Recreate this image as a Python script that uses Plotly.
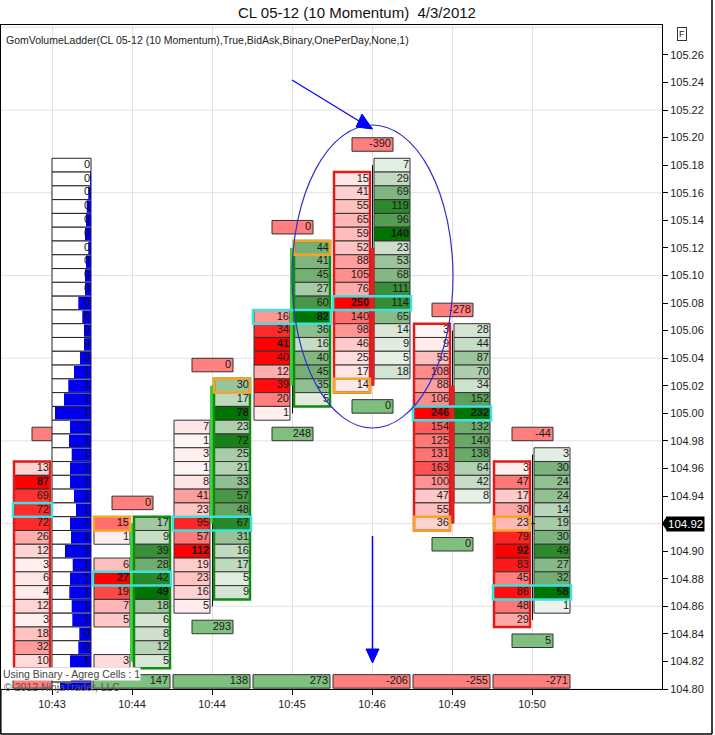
import plotly.graph_objects as go

# ---------------- data ----------------
TICK = 0.01
times = ["10:43", "10:44", "10:44", "10:45", "10:46", "10:49", "10:50"]

# top price of each bid (left, red) and ask (right, green) ladder column
bid_top = [104.96, 104.92, 104.99, 105.07, 105.17, 105.06, 104.96]
ask_top = [104.97, 104.92, 105.02, 105.12, 105.18, 105.06, 104.97]

bid_1043 = [13, 87, 69, 72, 72, 26, 12, 3, 6, 4, 12, 3, 18, 32, 10]
ask_1043 = []  # hidden under the volume profile
bid_1044a = [15, 1, None, 6, 27, 19, 7, 5, None, None, 3]
ask_1044a = [17, 9, 39, 28, 42, 49, 18, 6, 8, 12, 5]
bid_1044b = [7, 1, 3, 1, 8, 41, 23, 95, 57, 112, 19, 23, 16, 5]
ask_1044b = [30, 17, 78, 23, 72, 25, 21, 33, 57, 48, 67, 31, 16, 17, 5, 9]
bid_1045 = [16, 34, 41, 40, 12, 39, 20, 1]
ask_1045 = [44, 41, 45, 27, 60, 82, 36, 16, 40, 45, 35, 5]
bid_1046 = [15, 41, 55, 65, 59, 52, 88, 105, 76, 250, 140, 98, 46, 25, 17, 14]
ask_1046 = [7, 29, 69, 119, 96, 140, 23, 53, 68, 111, 114, 65, 14, 9, 5, 18]
bid_1049 = [3, 9, 55, 108, 88, 106, 246, 154, 125, 131, 163, 100, 47, 55, 36]
ask_1049 = [28, 44, 87, 70, 34, 152, 232, 132, 140, 138, 64, 42, 8]
bid_1050 = [3, 47, 17, 30, 23, 79, 92, 83, 45, 86, 48, 29]
ask_1050 = [3, 30, 24, 24, 14, 19, 30, 49, 27, 32, 58, 1]

bid_cols = [bid_1043, bid_1044a, bid_1044b, bid_1045, bid_1046, bid_1049, bid_1050]
ask_cols = [ask_1043, ask_1044a, ask_1044b, ask_1045, ask_1046, ask_1049, ask_1050]

bar_open = [None, 104.82, 104.92, 105.02, 105.12, 105.02, 104.92]
bar_high = [104.97, 104.92, 105.02, 105.12, 105.18, 105.06, 104.97]
bar_low = [104.82, 104.82, 104.86, 105.00, 105.02, 104.92, 104.85]
bar_close = [None, 104.92, 105.02, 105.12, 105.02, 104.92, 104.92]

delta_top = ["0", "0", "0", "0", "-390", "-278", "-44"]
delta_bottom = [None, None, "293", "248", "0", "0", "5"]
bar_totals = [None, 147, 138, 273, -206, -255, -271]   # first one is hidden (negative)

poc_price = [104.93, 104.88, 104.92, 105.07, 105.08, 105.00, 104.87]
close_side = ["", "bid", "ask", "ask", "bid", "bid", "bid"]
dominant_side = ["bid", "ask", "ask", "ask", "bid", "bid", "bid"]

# one-per-day volume profile (drawn on the first bar)
profile_top = 105.18
profile_vol = [0, 1, 2.7, 4.3, 5, 6, 2.7, 5, 6, 6, 12.7, 8.7, 7, 7, 11, 17, 22.7, 27, 36,
               21, 22, 19.3, 21, 21, 17, 15, 21, 20, 26, 18.3, 21, 21.7, 19.3, 18.7, 11.7,
               12.7, 21, 20, 31]
profile_lbl = [0] * 15 + [1] * 19 + [0, 0] + [1, 1, 1]

current_price = 104.92
y_ticks = [round(104.80 + 0.02 * k, 2) for k in range(24)]

# ---------------- geometry ----------------
W, H = 715, 735
PL, PR, PT, PB = 1, 662, 25, 689
C0, BARPX = 52, 80
PXP = 1378.5                       # pixels per 1.0 price
Y0 = 104.80
Y1 = Y0 + (PB - PT) / PXP
X0 = (PL - C0) / BARPX
X1 = (PR - C0) / BARPX


def dx(px):
    return px / BARPX


def xp(px):
    return (px - C0) / BARPX


def yp(py):
    return Y0 + (PB - py) / PXP


def paper_x(px):
    return (px - PL) / (PR - PL)


def paper_y(py):
    return (PB - py) / (PB - PT)


FONT = "Arial, Liberation Sans, sans-serif"
TXT = "#1a1a1a"


def red_col(v, m):
    t = v / m
    g = round(246 * (1 - t))
    return f"rgb(255,{g},{g})"


def green_col(v, m):
    t = v / m
    r = round(238 * (1 - t) ** 0.9)
    g = round(244 - (244 - 118) * t)
    return f"rgb({r},{g},{r})"


fig = go.Figure()
shapes = []

# horizontal grid lines every 0.06
k = 0
while Y0 + 0.06 * k < Y1:
    gy = Y0 + 0.06 * k
    shapes.append(dict(type="line", xref="paper", yref="y", x0=0, x1=1, y0=gy, y1=gy,
                       line=dict(color="#e2e2e2", width=1), layer="below"))
    k += 1


def add_cells(i, side, top, vols):
    idx = [n for n, v in enumerate(vols) if v is not None]
    if not idx:
        return
    vals = [vols[n] for n in idx]
    prices = [round(top - n * TICK, 2) for n in idx]
    m = max(vals)
    left = -38 if side == "bid" else 2
    colors = [red_col(v, m) if side == "bid" else green_col(v, m) for v in vals]
    fig.add_trace(go.Bar(orientation="h", y=prices, x=[dx(36)] * len(vals),
                         base=[i + dx(left)] * len(vals), width=TICK,
                         marker=dict(color=colors, line=dict(color="#333333", width=1)),
                         hoverinfo="skip", showlegend=False))
    texts = [f"<b>{v}</b>" if v == m else str(v) for v in vals]
    fig.add_trace(go.Scatter(x=[i + dx(left + 35)] * len(vals), y=prices, mode="text",
                             text=texts, textposition="middle left",
                             textfont=dict(family=FONT, size=11, color=TXT),
                             hoverinfo="skip", showlegend=False))


def add_box(x_left_px, x_w_px, y, color, text, text_right_px):
    fig.add_trace(go.Bar(orientation="h", y=[y], x=[dx(x_w_px)], base=[x_left_px],
                         width=TICK * 0.98,
                         marker=dict(color=color, line=dict(color="#333333", width=1)),
                         hoverinfo="skip", showlegend=False))
    if text is not None:
        fig.add_trace(go.Scatter(x=[text_right_px], y=[y], mode="text", text=[text],
                                 textposition="middle left",
                                 textfont=dict(family=FONT, size=11, color=TXT),
                                 hoverinfo="skip", showlegend=False))


RED_BOX = "#ff7f7f"
GREEN_BOX = "#7fbf7f"

for i in range(len(times)):
    # delta boxes above / below the bar
    add_box(i + dx(-20), 41, bar_high[i] + 1.5 * TICK, RED_BOX,
            delta_top[i] if i > 0 else None, i + dx(19))
    if delta_bottom[i] is not None:
        add_box(i + dx(-20), 41, bar_low[i] - 1.5 * TICK, GREEN_BOX,
                delta_bottom[i], i + dx(19))
    # totals row at the bottom
    tv = bar_totals[i]
    tcol = GREEN_BOX if (tv is not None and tv > 0) else RED_BOX
    add_box(i + dx(-39), 77, Y0 + 0.0055, tcol, None if tv is None else str(tv), i + dx(36))
    # ladder cells
    add_cells(i, "bid", bid_top[i], bid_cols[i])
    add_cells(i, "ask", ask_top[i], ask_cols[i])

# volume profile on the first bar
pp = [round(profile_top - n * TICK, 2) for n in range(len(profile_vol))]
pmax = max(profile_vol)
fig.add_trace(go.Bar(orientation="h", y=pp, x=[dx(39)] * len(pp), base=[0] * len(pp),
                     width=TICK, marker=dict(color="white", line=dict(color="#222222", width=1)),
                     hoverinfo="skip", showlegend=False))
bw = [v / pmax * 36 for v in profile_vol]
fig.add_trace(go.Bar(orientation="h", y=pp, x=[dx(w) for w in bw],
                     base=[dx(39 - w) for w in bw], width=TICK * 0.9,
                     marker=dict(color="#0000ee", line=dict(width=0)),
                     hoverinfo="skip", showlegend=False))
# labels of the lowest rows are covered by the footer texts, so only the visible ones are drawn
vis = [n for n, p in enumerate(pp) if p > Y0 + 0.015]
fig.add_trace(go.Scatter(x=[dx(38)] * len(vis), y=[pp[n] for n in vis], mode="text",
                         text=[str(profile_lbl[n]) for n in vis], textposition="middle left",
                         textfont=dict(family=FONT, size=11, color="#111111"),
                         hoverinfo="skip", showlegend=False))

# candles
for i in range(len(times)):
    if bar_open[i] is None:
        continue
    shapes.append(dict(type="line", xref="x", yref="y", x0=i + dx(0.5), x1=i + dx(0.5),
                       y0=bar_low[i], y1=bar_high[i], line=dict(color="black", width=1),
                       layer="above"))
    if abs(bar_close[i] - bar_open[i]) < 1e-9:
        shapes.append(dict(type="line", xref="x", yref="y", x0=i + dx(-3), x1=i + dx(3),
                           y0=bar_close[i], y1=bar_close[i], line=dict(color="black", width=1),
                           layer="above"))
    else:
        up = bar_close[i] > bar_open[i]
        shapes.append(dict(type="rect", xref="x", yref="y", x0=i + dx(-2), x1=i + dx(2.5),
                           y0=bar_open[i], y1=bar_close[i],
                           fillcolor="#3fcf3f" if up else "#dd2222",
                           line=dict(width=0), layer="above"))

# column outlines, POC and close highlights
for i in range(len(times)):
    side = dominant_side[i]
    vols = bid_cols[i] if side == "bid" else ask_cols[i]
    top = bid_top[i] if side == "bid" else ask_top[i]
    bottom = round(top - (len(vols) - 1) * TICK, 2)
    l, r = (-38, -2) if side == "bid" else (2, 38)
    shapes.append(dict(type="rect", xref="x", yref="y", x0=i + dx(l), x1=i + dx(r),
                       y0=bottom - TICK / 2, y1=top + TICK / 2,
                       line=dict(color="#dd1c1c" if side == "bid" else "#138a13", width=2.5),
                       fillcolor="rgba(0,0,0,0)", layer="above"))
    right = 0 if i == 0 else 39
    shapes.append(dict(type="rect", xref="x", yref="y", x0=i + dx(-39), x1=i + dx(right),
                       y0=poc_price[i] - TICK / 2, y1=poc_price[i] + TICK / 2,
                       line=dict(color="#3ee0e0", width=2.5),
                       fillcolor="rgba(0,0,0,0)", layer="above"))
    if close_side[i]:
        l, r = (-38, -2) if close_side[i] == "bid" else (2, 38)
        shapes.append(dict(type="rect", xref="x", yref="y", x0=i + dx(l), x1=i + dx(r),
                           y0=bar_close[i] - TICK / 2, y1=bar_close[i] + TICK / 2,
                           line=dict(color="#f4a42a", width=2.5),
                           fillcolor="rgba(0,0,0,0)", layer="above"))

# hand-drawn blue ellipse and arrows
shapes.append(dict(type="circle", xref="x", yref="y", x0=xp(292), x1=xp(453),
                   y0=yp(428), y1=yp(125), line=dict(color="#3030cc", width=1.2),
                   layer="above"))
shapes.append(dict(type="line", xref="x", yref="y", x0=xp(292), y0=yp(80), x1=xp(359),
                   y1=yp(121), line=dict(color="#0000ff", width=1.2), layer="above"))
shapes.append(dict(type="path", xref="x", yref="y",
                   path=f"M {xp(362)} {yp(114)} L {xp(356)} {yp(127)} L {xp(372.5)} {yp(129)} Z",
                   fillcolor="#0000ff", line=dict(color="#0000ff", width=1), layer="above"))
shapes.append(dict(type="line", xref="x", yref="y", x0=xp(372.5), y0=yp(536), x1=xp(372.5),
                   y1=yp(650), line=dict(color="#0000ff", width=1.5), layer="above"))
shapes.append(dict(type="path", xref="x", yref="y",
                   path=f"M {xp(366)} {yp(649)} L {xp(379)} {yp(649)} L {xp(372.5)} {yp(663)} Z",
                   fillcolor="#0000ff", line=dict(color="#0000ff", width=1), layer="above"))

# current price marker tip
shapes.append(dict(type="path", xref="paper", yref="paper",
                   path=f"M {paper_x(662)} {paper_y(523.5)} L {paper_x(667)} {paper_y(516)} "
                        f"L {paper_x(667)} {paper_y(531)} Z",
                   fillcolor="black", line=dict(width=0)))
# outer frame
shapes.append(dict(type="line", xref="paper", yref="paper", x0=paper_x(712), x1=paper_x(712),
                   y0=paper_y(0), y1=paper_y(734), line=dict(color="black", width=1.5)))
shapes.append(dict(type="line", xref="paper", yref="paper", x0=paper_x(0.5), x1=paper_x(712),
                   y0=paper_y(734), y1=paper_y(734), line=dict(color="black", width=1.5)))
shapes.append(dict(type="line", xref="paper", yref="paper", x0=paper_x(0.8), x1=paper_x(0.8),
                   y0=paper_y(689), y1=paper_y(734), line=dict(color="black", width=1.5)))

annotations = [
    dict(text="CL 05-12 (10 Momentum) \u00a04/3/2012", xref="paper", yref="paper",
         x=paper_x(357), y=paper_y(13), xanchor="center", yanchor="middle", showarrow=False,
         font=dict(family=FONT, size=15, color="#111111")),
    dict(text="GomVolumeLadder(CL 05-12 (10 Momentum),True,BidAsk,Binary,OnePerDay,None,1)",
         xref="paper", yref="paper", x=paper_x(4), y=paper_y(40), xanchor="left",
         yanchor="middle", showarrow=False, font=dict(family=FONT, size=10.5, color="#222222")),
    dict(text="Using Binary - Agreg Cells : 1", xref="paper", yref="paper", x=paper_x(2),
         y=paper_y(674), xanchor="left", yanchor="middle", showarrow=False,
         bgcolor="white", borderpad=0,
         font=dict(family=FONT, size=10.5, color="#444444")),
    dict(text="\u00a9 2012 NinjaTrader, LLC", xref="paper", yref="paper", x=paper_x(2),
         y=paper_y(686.5), xanchor="left", yanchor="middle", showarrow=False,
         font=dict(family=FONT, size=10.5, color="#555555")),
    dict(text=f"{current_price:.2f}", xref="paper", yref="y", x=paper_x(666),
         y=current_price, xanchor="left", yanchor="middle", showarrow=False,
         bgcolor="black", borderpad=1, font=dict(family=FONT, size=11.5, color="white")),
    dict(text="F", xref="paper", yref="paper", x=paper_x(682), y=paper_y(33.5),
         xanchor="center", yanchor="middle", showarrow=False, bordercolor="#333333",
         borderwidth=1, borderpad=1, bgcolor="white",
         font=dict(family=FONT, size=9, color="#222222")),
]

fig.update_layout(
    width=W, height=H,
    margin=dict(l=PL, r=W - PR, t=PT, b=H - PB, pad=0),
    paper_bgcolor="white", plot_bgcolor="white",
    barmode="overlay", showlegend=False,
    shapes=shapes, annotations=annotations,
    xaxis=dict(range=[X0, X1], tickvals=list(range(len(times))), ticktext=times,
               showgrid=True, gridcolor="#e2e2e2", gridwidth=1, zeroline=False,
               showline=True, linecolor="black", linewidth=1, mirror=True,
               ticks="outside", ticklen=5, tickcolor="black",
               tickfont=dict(family=FONT, size=11, color="#222222"), fixedrange=True),
    yaxis=dict(range=[Y0, Y1], side="right", tickvals=y_ticks,
               ticktext=["" if abs(v - current_price) < 1e-9 else f"{v:.2f}" for v in y_ticks],
               showgrid=False, zeroline=False,
               showline=True, linecolor="black", linewidth=1, mirror=True,
               ticks="outside", ticklen=5, tickcolor="black",
               tickfont=dict(family=FONT, size=11, color="#222222"), fixedrange=True),
)

fig.write_html("out.html", config={"displayModeBar": False},
               post_script="document.body.style.margin='0';document.body.style.padding='0';")
